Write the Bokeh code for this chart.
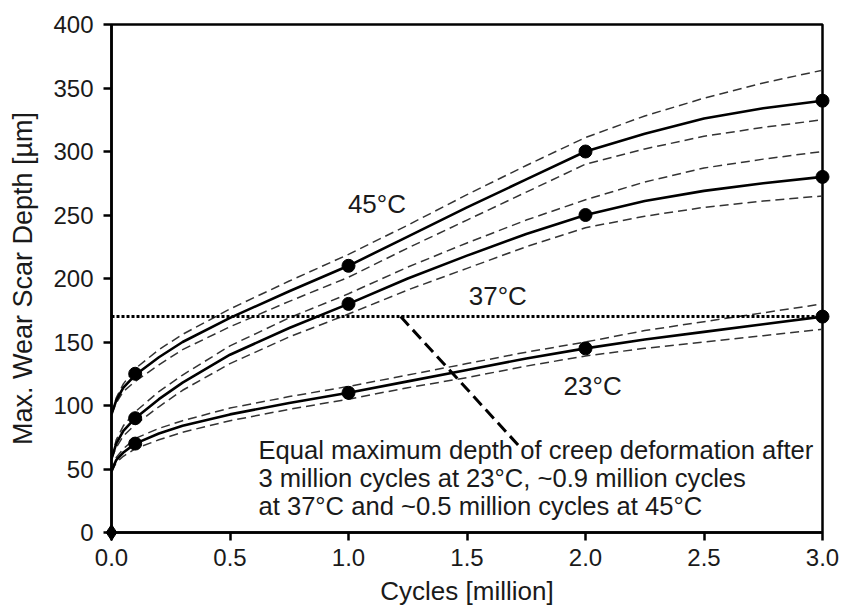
from bokeh.plotting import figure
from bokeh.models import Range1d, FixedTicker, NumeralTickFormatter
from bokeh.core.properties import value
from bokeh.embed import file_html
from bokeh.resources import INLINE

# ---------------- data ----------------
x_grid = [0, 0.02, 0.05, 0.1, 0.2, 0.3, 0.5, 0.75, 1.0, 1.25, 1.5, 1.75, 2.0, 2.25, 2.5, 2.75, 3.0]

t45_fit   = [93, 104, 114, 124, 138, 150, 169, 190, 210, 233, 256, 278, 300, 314, 326, 334, 340]
t45_upper = [93, 106, 117, 129, 144, 156, 176, 198, 219, 242, 266, 289, 311, 328, 342, 354, 364]
t45_lower = [93, 102, 111, 119, 132, 144, 162, 182, 201, 224, 246, 268, 290, 302, 312, 319, 325]

t37_fit   = [58, 70, 80, 90, 105, 118, 140, 161, 180, 200, 218, 235, 250, 261, 269, 275, 280]
t37_upper = [58, 73, 84, 95, 111, 124, 147, 169, 188, 209, 228, 246, 262, 276, 287, 294, 300]
t37_lower = [58, 67, 76, 85, 99, 112, 133, 154, 172, 191, 208, 225, 240, 249, 256, 261, 265]

t23_fit   = [48, 57, 63, 70, 78, 84, 93, 102, 110, 119, 128, 137, 145, 152, 158, 164, 170]
t23_upper = [48, 59, 66, 74, 82, 88, 98, 107, 115, 124, 133, 142, 150, 159, 166, 173, 180]
t23_lower = [48, 55, 60, 66, 73, 79, 88, 97, 105, 114, 122, 131, 139, 145, 150, 155, 160]

meas_cycles = [0.1, 1.0, 2.0, 3.0]
meas_45 = [125, 210, 300, 340]
meas_37 = [90, 180, 250, 280]
meas_23 = [70, 110, 145, 170]

origin_x = [0]
origin_y = [0]

equal_depth = 170
equal_x = [0, 3]
pointer_x = [1.22, 1.72]
pointer_y = [170, 68]

curve_labels = ["45°C", "37°C", "23°C"]
curve_label_x = [1.12, 1.63, 2.03]
curve_label_y = [259, 186, 115]

note_lines = [
    "Equal maximum depth of creep deformation after",
    "3 million cycles at 23°C, ~0.9 million cycles",
    "at 37°C and ~0.5 million cycles at 45°C",
]
note_x = [0.62, 0.62, 0.62]
note_y = [65, 43, 21]

x_ticks = [0, 0.5, 1.0, 1.5, 2.0, 2.5, 3.0]
y_ticks = [0, 50, 100, 150, 200, 250, 300, 350, 400]

# ---------------- figure ----------------
FONT = "Liberation Sans"
p = figure(width=843, height=608, output_backend="svg", toolbar_location=None,
           x_range=Range1d(0, 3), y_range=Range1d(0, 400),
           min_border_left=111, min_border_right=21, min_border_top=24, min_border_bottom=75)
p.grid.visible = False
p.background_fill_color = "white"
p.border_fill_color = "white"
p.outline_line_color = "black"
p.outline_line_width = 2.5

for ax in (p.xaxis[0], p.yaxis[0]):
    ax.axis_line_width = 2.5
    ax.axis_line_color = "black"
    ax.major_tick_line_width = 2.5
    ax.major_tick_line_color = "black"
    ax.major_tick_out = 8
    ax.major_tick_in = 0
    ax.minor_tick_line_color = None
    ax.major_label_text_font = FONT
    ax.major_label_text_font_size = "24px"
    ax.major_label_text_color = "#1a1a1a"
    ax.axis_label_text_font = FONT
    ax.axis_label_text_font_style = "normal"
    ax.axis_label_text_color = "#1a1a1a"

p.xaxis.axis_label_text_font_size = "26px"
p.yaxis.axis_label_text_font_size = "27px"
p.xaxis.ticker = FixedTicker(ticks=x_ticks)
p.xaxis.formatter = NumeralTickFormatter(format="0.0")
p.yaxis.ticker = FixedTicker(ticks=y_ticks)
p.xaxis.axis_label = "Cycles [million]"
p.yaxis.axis_label = "Max. Wear Scar Depth [µm]"
p.xaxis.major_label_standoff = 8
p.yaxis.major_label_standoff = 10
p.xaxis.axis_label_standoff = 7
p.yaxis.axis_label_standoff = 12

# confidence bands (dashed)
for ys in (t45_upper, t45_lower, t37_upper, t37_lower, t23_upper, t23_lower):
    p.line(x_grid, ys, line_color="#333333", line_width=1.5, line_dash="9 5")

# fitted curves
for ys in (t45_fit, t37_fit, t23_fit):
    p.line(x_grid, ys, line_color="black", line_width=2.6)

# equal-depth dotted line and pointer
p.line(equal_x, [equal_depth, equal_depth], line_color="black", line_width=3, line_dash="3 2")
p.line(pointer_x, pointer_y, line_color="black", line_width=3, line_dash="12 6")

# measured points (drawn above the frame so they are not clipped at the edges)
for ys in (meas_45, meas_37, meas_23):
    p.scatter(meas_cycles, ys, size=13, marker="circle", fill_color="black",
              line_color="black", level="overlay")
p.scatter(origin_x, origin_y, size=16, marker="diamond", fill_color="black",
          line_color="black", level="overlay")

# labels
p.text(curve_label_x, curve_label_y, text=curve_labels, text_font=value(FONT),
       text_font_size="26px", text_color="#1a1a1a", text_align="center", text_baseline="middle")
p.text(note_x, note_y, text=note_lines, text_font=value(FONT),
       text_font_size="25.6px", text_color="#1a1a1a", text_align="left", text_baseline="alphabetic")

open("out.html", "w").write(file_html(p, INLINE))
